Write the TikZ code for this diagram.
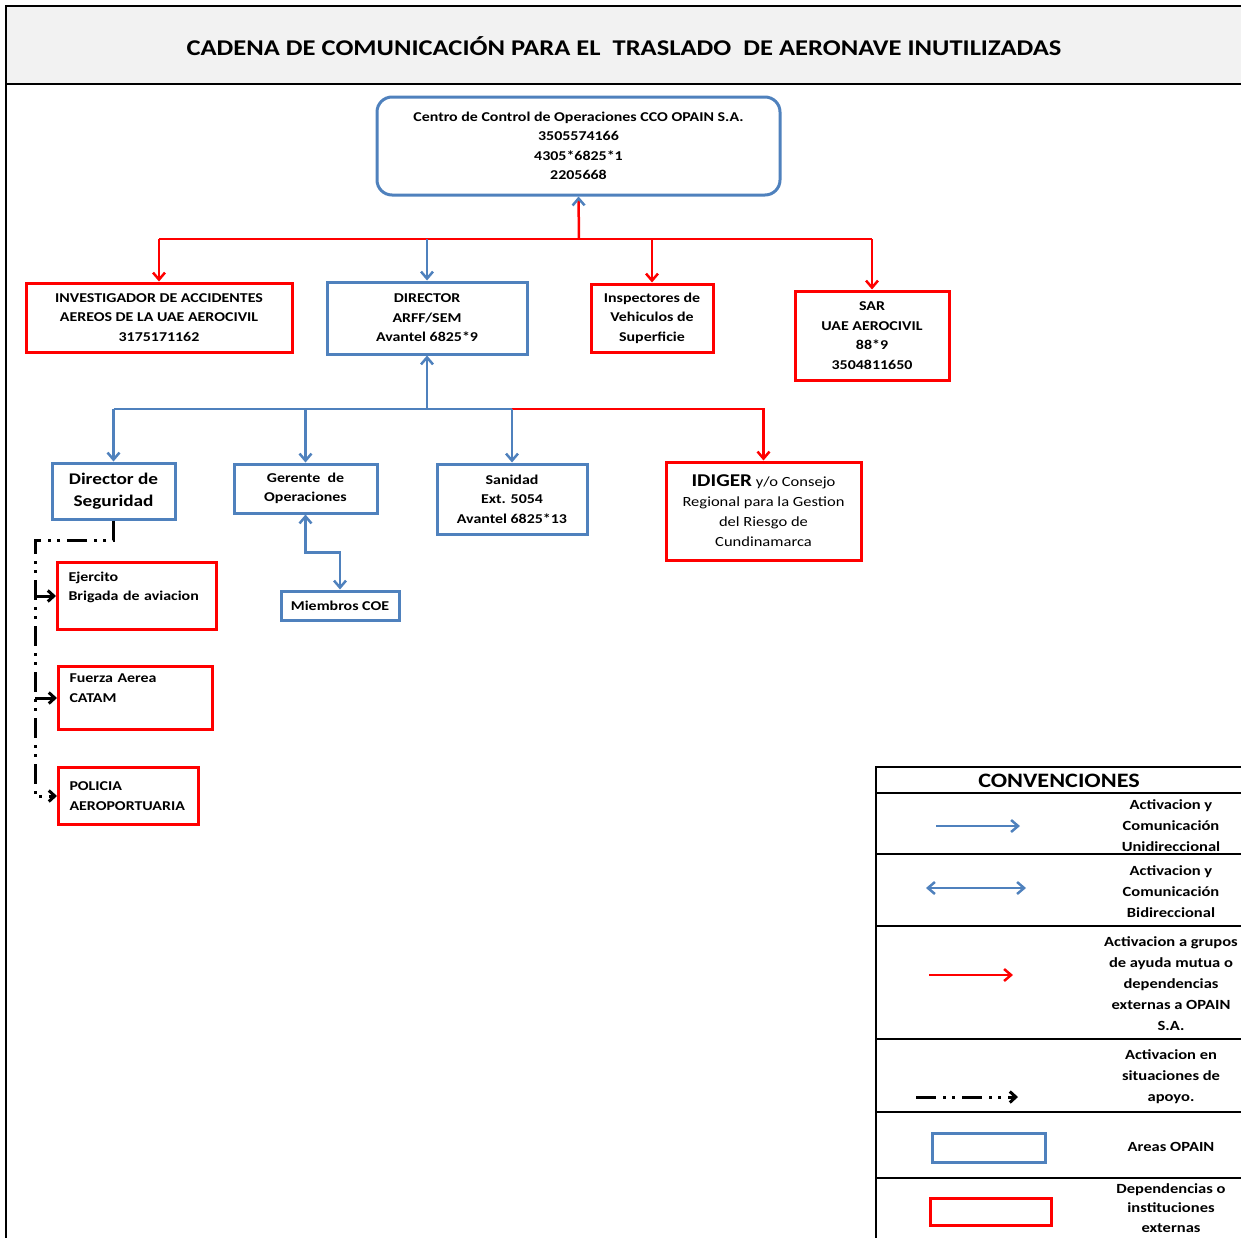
\documentclass[tikz,border=0pt]{standalone}
\usepackage{fontspec}
\setmainfont{Carlito}[FakeStretch=1.18]
\usetikzlibrary{arrows.meta, positioning}
\definecolor{opainBlue}{RGB}{79, 129, 189}
\definecolor{extRed}{RGB}{255, 0, 0}
\definecolor{titleBg}{RGB}{242, 242, 242}
\definecolor{frameColor}{RGB}{0, 0, 0}

\begin{document}
\begin{tikzpicture}[x=1pt, y=-1pt]

% Style definitions
\tikzset{
    base/.style={
        rectangle, line width=3pt, inner sep=0pt, align=center, fill=white,
        font={\fontsize{13.5}{19.5}\selectfont\bfseries}
    },
    area/.style={base, draw=opainBlue},
    ext/.style={base, draw=extRed},
    support/.style={
        ext, align=left, inner xsep=11pt, anchor=north west
    },
    wire/.style={
        draw=opainBlue, line width=2.5pt, -{Straight Barb[length=7pt, width=12pt]}
    },
    biwire/.style={
        wire, {Straight Barb[length=7pt, width=12pt]}-{Straight Barb[length=7pt, width=12pt]}
    },
    redline/.style={draw=extRed, line width=2.5pt},
    redwire/.style={
        redline, -{Straight Barb[length=7pt, width=12pt]}
    },
    backup/.style={
        draw=black, line width=3pt,
        dash pattern=on 20pt off 7pt on 3pt off 6pt on 3pt off 7pt,
        -{Straight Barb[length=6pt, width=11pt]}
    },
    legendtext/.style={
        align=center, font={\fontsize{14}{21}\selectfont\bfseries}
    },
    frame/.style={draw=frameColor, line width=2pt}
}

\useasboundingbox (0,0) rectangle (1241,1237);

% Title
\filldraw [frame, fill=titleBg] (6,1245) -- (6,6) -- (1250,6) -- (1250,84) -- (6,84);
\node (title) [font={\fontsize{22.5}{26}\selectfont\bfseries}] at (624,46)
    {CADENA DE COMUNICACIÓN PARA EL\ \ TRASLADO\ \ DE AERONAVE INUTILIZADAS};

% Control center
\node (cco) [area, rounded corners=15pt, minimum width=403pt, minimum height=98pt] at (578.5,146) {
    Centro de Control de Operaciones CCO OPAIN S.A.\\
    3505574166\\
    4305*6825*1\\
    2205668
};

% First level
\node (inv) [ext, minimum width=266pt, minimum height=69pt] at (159,317.5) {
    INVESTIGADOR DE ACCIDENTES\\
    AEREOS DE LA UAE AEROCIVIL\\
    3175171162
};

\node (dir) [area, minimum width=200pt, minimum height=72pt] at (427,318) {
    DIRECTOR\\
    ARFF/SEM\\
    Avantel 6825*9
};

\node (insp) [ext, minimum width=122pt, minimum height=68pt] at (652,318) {
    Inspectores de\\
    Vehiculos de\\
    Superficie
};

\node (sar) [ext, minimum width=154pt, minimum height=89pt] at (872,335.5) {
    SAR\\
    UAE AEROCIVIL\\
    88*9\\
    3504811650
};

% Second level
\node (dseg) [area, minimum width=123pt, minimum height=56pt,
    font={\fontsize{16.3}{22}\selectfont\bfseries}] at (113.5,491) {
    Director de\\
    Seguridad
};

\node (ger) [area, minimum width=143pt, minimum height=49pt] at (305.5,488.5) {
    Gerente\ \ de\\
    Operaciones
};

\node (san) [area, minimum width=150pt, minimum height=70pt] at (512,499) {
    Sanidad\\
    Ext. 5054\\
    Avantel 6825*13
};

\node (idiger) [ext, minimum width=195pt, minimum height=98pt,
    font={\fontsize{14}{20}\selectfont}] at (763.5,511) {
    {\fontsize{18}{20}\selectfont\bfseries IDIGER} y/o Consejo\\
    Regional para la Gestion\\
    del Riesgo de\\
    Cundinamarca
};

\node (coe) [area, minimum width=118pt, minimum height=29pt] at (340,605.5) {Miembros COE};

% Support institutions
\node (ejer) [support, text width=137pt, minimum height=67pt] at (56,561) {
    Ejercito\\
    Brigada de aviacion\\
    \mbox{}
};

\node (fuerza) [support, text width=132pt, minimum height=63pt] at (57,665) {
    Fuerza Aerea\\
    CATAM\\
    \mbox{}
};

\node (policia) [support, text width=118pt, minimum height=57pt] at (57,766) {
    POLICIA\\
    AEROPORTUARIA
};

% Connections from the control center
\coordinate (hubA) at (579,239);
\draw [redline] (inv.north |- hubA) -- (sar.north |- hubA);
\draw [redline, -{Straight Barb[length=7pt, width=12pt, color=opainBlue]}] (hubA) -- (cco.south);
\draw [redwire] (inv.north |- hubA) -- (inv.north);
\draw [wire] (dir.north |- hubA) -- (dir.north);
\draw [redwire] (insp.north |- hubA) -- (insp.north);
\draw [redwire] (sar.north |- hubA) -- (sar.north);

% Connections from the ARFF director
\coordinate (hubB) at (427,409);
\draw [redwire] (hubB) -| (idiger.north);
\draw [draw=opainBlue, line width=2.5pt] (dseg.north |- hubB) -- (san.north |- hubB);
\draw [wire] (hubB) -- (dir.south);
\draw [wire] (dseg.north |- hubB) -- (dseg.north);
\draw [wire] (ger.north |- hubB) -- (ger.north);
\draw [wire] (san.north |- hubB) -- (san.north);

\draw [biwire] (ger.south) -- ++(0,38) -| (coe.north);

% Support chain
\coordinate (turn) at (35,540);
\draw [backup] (dseg.south) |- (turn) |- (policia.west);
\draw [backup] (turn |- ejer.west) -- (ejer.west);
\draw [backup] (turn |- fuerza.west) -- (fuerza.west);

% Legend
\draw [frame] (876,1245) -- (876,767) -- (1250,767);
\foreach \ly in {793, 854, 926, 1039, 1112, 1178} {
    \draw [frame] (876,\ly) -- (1250,\ly);
}
\node (convTitle) [font={\fontsize{20.5}{24}\selectfont\bfseries}] at (1059,781) {CONVENCIONES};

\draw [wire] (936,826) -- (1020,826);
\node (lgUni) [legendtext] at (1171,826) {Activacion y\\Comunicación\\Unidireccional};

\draw [biwire] (926,888) -- (1026,888);
\node (lgBi) [legendtext] at (1171,892) {Activacion y\\Comunicación\\Bidireccional};

\draw [redwire] (929,975) -- (1013,975);
\node (lgExt) [legendtext] at (1171,984) {Activacion a grupos\\de ayuda mutua o\\dependencias\\externas a OPAIN\\S.A.};

\draw [backup] (916,1097) -- (1018,1097);
\node (lgSup) [legendtext] at (1171,1077) {Activacion en\\situaciones de\\apoyo.};

\node (lgArea) [area, minimum width=113pt, minimum height=29pt] at (988.5,1147.5) {};
\node (lgAreaTxt) [legendtext] at (1171,1147) {Areas OPAIN};

\node (lgDep) [ext, minimum width=121pt, minimum height=27pt] at (990.5,1211.5) {};
\node (lgDepTxt) [legendtext, font={\fontsize{14}{19.5}\selectfont\bfseries}] at (1171,1208) {Dependencias o\\instituciones\\externas};

\end{tikzpicture}
\end{document}
